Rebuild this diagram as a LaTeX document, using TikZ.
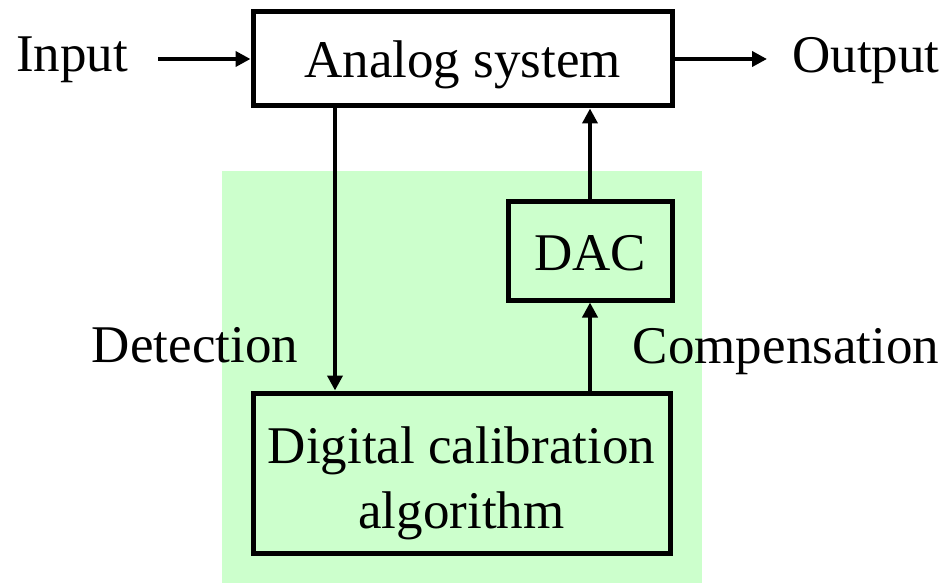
\documentclass[tikz,border=0pt]{standalone}
\usepackage{fontspec}
\setmainfont{Liberation Serif}
\usetikzlibrary{arrows.meta}
\definecolor{zone}{HTML}{CCFFCC}
\begin{document}
\begin{tikzpicture}[x=1pt,y=-1pt,
  blk/.style={draw,line width=5pt,inner sep=0pt,font=\fontsize{53}{65}\selectfont,
    text height=38pt,text depth=0pt},
  lbl/.style={inner sep=0pt,anchor=base,font=\fontsize{53}{65}\selectfont},
  sig/.style={line width=4pt,-{Triangle[length=15pt,width=15pt]}}]
\useasboundingbox (0,0) rectangle (943,583);
% shaded digital section
\fill[zone] (222,171) rectangle (702,583);
% blocks
\node[blk,minimum width=419pt,minimum height=94pt] (ana) at (462.5,59) {Analog system};
\node[blk,minimum width=164pt,minimum height=98pt] (dac) at (590,251) {DAC};
\node[blk,minimum width=417pt,minimum height=160pt,text height=,text depth=] (dig) at (461.5,473)
  {\raisebox{0pt}[110pt][0pt]{\begin{tabular}[b]{@{}c@{}}Digital calibration\\algorithm\end{tabular}}};
% labels
\node[lbl] (in) at (72,72) {Input};
\node[lbl] (out) at (866,73) {Output};
\node[lbl] (det) at (195,362) {Detection};
\node[lbl] (comp) at (786,363) {Compensation};
% connectors
\coordinate (inS) at (158,59);
\coordinate (outE) at (767,59);
\draw[sig] (inS) -- (ana.west);
\draw[sig] (ana.east) -- (outE);
\draw[sig] (ana.south -| 335,0) -- (dig.north -| 335,0);
\draw[sig] (dig.north -| dac.south) -- (dac.south);
\draw[sig] (dac.north) -- (ana.south -| dac.north);
\end{tikzpicture}
\end{document}
